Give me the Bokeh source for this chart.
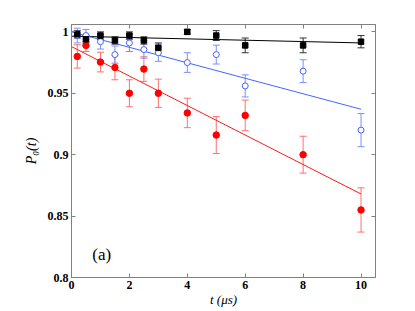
from bokeh.plotting import figure
from bokeh.models import (ColumnDataSource, Whisker, TeeHead, LinearAxis, Range1d,
                          FixedTicker, CustomLabelingPolicy)
from bokeh.core.properties import value
from bokeh.embed import file_html
from bokeh.resources import INLINE

# ---- data ----
t = [0.2, 0.5, 1, 1.5, 2, 2.5, 3, 4, 5, 6, 8, 10]
black = [0.998, 0.994, 0.997, 0.993, 0.997, 0.993, 0.987, 1.000, 0.997, 0.989, 0.989, 0.992]
black_err = [0.003, 0.003, 0.003, 0.003, 0.003, 0.003, 0.004, 0.002, 0.004, 0.006, 0.006, 0.005]
blue = [0.997, 0.997, 0.992, 0.9815, 0.991, 0.9856, 0.983, 0.975, 0.9815, 0.956, 0.968, 0.920]
blue_err = [0.006, 0.005, 0.006, 0.007, 0.007, 0.007, 0.007, 0.008, 0.0077, 0.009, 0.0093, 0.0135]
red = [0.980, 0.989, 0.9754, 0.971, 0.950, 0.9697, 0.950, 0.934, 0.916, 0.932, 0.900, 0.855]
red_err = [0.0095, 0.005, 0.008, 0.010, 0.011, 0.010, 0.0115, 0.012, 0.015, 0.0125, 0.015, 0.018]

fit_t = [0, 10]
black_fit = [0.9965, 0.991]
blue_fit = [1.000, 0.937]
red_fit = [0.988, 0.868]

x_ticks = [0, 2, 4, 6, 8, 10]
y_ticks = [0.8, 0.85, 0.9, 0.95, 1.0]
y_tick_labels = {0.8: "0.8", 0.85: "0.85", 0.9: "0.9", 0.95: "0.95", 1.0: "1"}
panel_label = "(a)"

AXIS_GRAY = "#808080"
SERIF = "serif"

p = figure(width=407, height=309, output_backend="svg", toolbar_location=None,
           x_range=Range1d(0, 10.5), y_range=Range1d(0.8, 1.006),
           min_border_left=71, min_border_right=32, min_border_top=24, min_border_bottom=30)
p.grid.visible = False
p.background_fill_color = "white"
p.border_fill_color = "white"
p.outline_line_color = AXIS_GRAY
p.outline_line_width = 1

no_labels = CustomLabelingPolicy(code="return new Set()")

def style_axis(ax, show_labels=True):
    ax.axis_line_color = AXIS_GRAY
    ax.major_tick_line_color = AXIS_GRAY
    ax.major_tick_in = 4
    ax.major_tick_out = 0
    ax.minor_tick_line_color = None
    ax.major_label_text_font = SERIF
    ax.major_label_text_font_style = "bold"
    ax.major_label_text_font_size = "12px"
    ax.major_label_text_color = "black"
    if show_labels:
        ax.major_label_standoff = 3
    else:
        ax.major_label_policy = no_labels
        ax.major_label_standoff = 0

xa = p.xaxis[0]
ya = p.yaxis[0]
xa.ticker = FixedTicker(ticks=x_ticks)
ya.ticker = FixedTicker(ticks=y_ticks)
ya.major_label_overrides = y_tick_labels
style_axis(xa)
style_axis(ya)
xa.axis_label = "t (μs)"
ya.axis_label = "P₀(t)"
for ax in (xa, ya):
    ax.axis_label_text_font = SERIF
    ax.axis_label_text_font_style = "italic"
    ax.axis_label_text_color = "black"
xa.axis_label_text_font_size = "13px"
ya.axis_label_text_font_size = "14px"
xa.axis_label_standoff = 0
ya.axis_label_standoff = 6

top = LinearAxis(ticker=FixedTicker(ticks=x_ticks))
right = LinearAxis(ticker=FixedTicker(ticks=y_ticks))
style_axis(top, False)
style_axis(right, False)
p.add_layout(top, "above")
p.add_layout(right, "right")

# fit lines
p.line(fit_t, black_fit, line_color="black", line_width=1)
p.line(fit_t, blue_fit, line_color="#4466ff", line_width=1)
p.line(fit_t, red_fit, line_color="#ff1a1a", line_width=1)

def add_series(vals, errs, err_color):
    src = ColumnDataSource(dict(
        t=t, y=vals,
        lo=[v - e for v, e in zip(vals, errs)],
        hi=[v + e for v, e in zip(vals, errs)]))
    w = Whisker(source=src, base="t", upper="hi", lower="lo",
                line_color=err_color, line_width=1,
                upper_head=TeeHead(size=7, line_color=err_color, line_width=1),
                lower_head=TeeHead(size=7, line_color=err_color, line_width=1))
    p.add_layout(w)
    return src

src_red = add_series(red, red_err, "#ff7070")
src_blue = add_series(blue, blue_err, "#7b8fff")
src_black = add_series(black, black_err, "#333333")

p.scatter("t", "y", source=src_red, marker="circle", size=6.5,
          fill_color="#ff0000", line_color="#ff0000")
p.scatter("t", "y", source=src_blue, marker="circle", size=6,
          fill_color="white", line_color="#4466ff", line_width=1)
p.scatter("t", "y", source=src_black, marker="square", size=5.5,
          fill_color="black", line_color="black")

p.text(x=[0.72], y=[0.8186], text=[panel_label], text_font=value(SERIF),
       text_font_size="17px", text_baseline="middle", text_align="left",
       text_color="black")

open("out.html", "w").write(file_html(p, INLINE))
